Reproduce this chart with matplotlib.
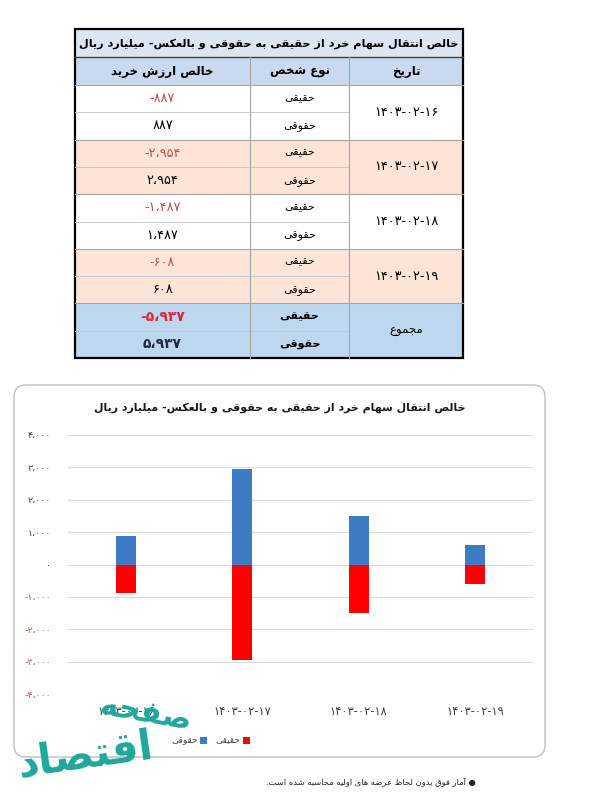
import matplotlib
matplotlib.use('Agg')
import matplotlib.pyplot as plt
from matplotlib.patches import Rectangle, FancyBboxPatch
import numpy as np

plt.rcParams['font.family'] = ['DejaVu Sans']

# data
dates = ['۱۴۰۳-۰۲-۱۶', '۱۴۰۳-۰۲-۱۷', '۱۴۰۳-۰۲-۱۸', '۱۴۰۳-۰۲-۱۹']
haghighi = [-887, -2954, -1487, -608]
hoghooghi = [887, 2954, 1487, 608]
total_vals = [-5937, 5937]
yticks = [-4000, -3000, -2000, -1000, 0, 1000, 2000, 3000, 4000]

title = 'خالص انتقال سهام خرد از حقیقی به حقوقی و بالعکس- میلیارد ریال'
headers = ['خالص ارزش خرید', 'نوع شخص', 'تاریخ']
kinds = ['حقیقی', 'حقوقی']
total_label = 'مجموع'
note = '● آمار فوق بدون لحاظ عرضه های اولیه محاسبه شده است.'

# simple arabic/persian shaping (matplotlib has no bidi)
FORMS = {
    'ا': (0xFE8D, 0xFE8E, None, None), 'آ': (0xFE81, 0xFE82, None, None),
    'ب': (0xFE8F, 0xFE90, 0xFE91, 0xFE92), 'پ': (0xFB56, 0xFB57, 0xFB58, 0xFB59),
    'ت': (0xFE95, 0xFE96, 0xFE97, 0xFE98), 'ج': (0xFE9D, 0xFE9E, 0xFE9F, 0xFEA0),
    'ح': (0xFEA1, 0xFEA2, 0xFEA3, 0xFEA4), 'خ': (0xFEA5, 0xFEA6, 0xFEA7, 0xFEA8),
    'د': (0xFEA9, 0xFEAA, None, None), 'ر': (0xFEAD, 0xFEAE, None, None),
    'ز': (0xFEAF, 0xFEB0, None, None), 'س': (0xFEB1, 0xFEB2, 0xFEB3, 0xFEB4),
    'ش': (0xFEB5, 0xFEB6, 0xFEB7, 0xFEB8), 'ص': (0xFEB9, 0xFEBA, 0xFEBB, 0xFEBC),
    'ض': (0xFEBD, 0xFEBE, 0xFEBF, 0xFEC0), 'ظ': (0xFEC5, 0xFEC6, 0xFEC7, 0xFEC8),
    'ع': (0xFEC9, 0xFECA, 0xFECB, 0xFECC), 'ف': (0xFED1, 0xFED2, 0xFED3, 0xFED4),
    'ق': (0xFED5, 0xFED6, 0xFED7, 0xFED8), 'ک': (0xFB8E, 0xFB8F, 0xFB90, 0xFB91),
    'ل': (0xFEDD, 0xFEDE, 0xFEDF, 0xFEE0), 'م': (0xFEE1, 0xFEE2, 0xFEE3, 0xFEE4),
    'ن': (0xFEE5, 0xFEE6, 0xFEE7, 0xFEE8), 'و': (0xFEED, 0xFEEE, None, None),
    'ه': (0xFEE9, 0xFEEA, 0xFEEB, 0xFEEC), 'ی': (0xFBFC, 0xFBFD, 0xFBFE, 0xFBFF),
}


def fa(s):
    out = []
    for i, c in enumerate(s):
        if c not in FORMS:
            out.append(c)
            continue
        f = FORMS[c]
        prev = s[i - 1] if i > 0 else ''
        nxt = s[i + 1] if i < len(s) - 1 else ''
        jp = prev in FORMS and FORMS[prev][2] is not None
        jn = f[2] is not None and nxt in FORMS
        if jp and jn:
            g = f[3]
        elif jp:
            g = f[1]
        elif jn:
            g = f[2]
        else:
            g = f[0]
        out.append(chr(g))
    return ''.join(out)[::-1]


def num(v):
    s = f'{v:,}'.replace(',', '،')
    return s.translate(str.maketrans('0123456789', '۰۱۲۳۴۵۶۷۸۹'))


fig = plt.figure(figsize=(5.9, 8), dpi=100)
ov = fig.add_axes([0, 0, 1, 1])
ov.set_xlim(0, 590)
ov.set_ylim(800, 0)
ov.axis('off')

# ---- table ----
x0, x1, x2, x3 = 75, 250, 349, 463
ty0, ty1, ty2 = 29, 57, 85
rh = 27.3
ov.add_patch(Rectangle((x0, ty0), x3 - x0, ty1 - ty0, fc='#dce6f2', ec='none'))
ov.add_patch(Rectangle((x0, ty1), x3 - x0, ty2 - ty1, fc='#c9daf0', ec='none'))
ov.text((x0 + x3) / 2, (ty0 + ty1) / 2 + 1, fa(title), ha='center', va='center',
        fontsize=8.1, fontweight='bold', color='black')
for h, (a, b) in zip(headers, [(x0, x1), (x1, x2), (x2, x3)]):
    ov.text((a + b) / 2, (ty1 + ty2) / 2, fa(h), ha='center', va='center',
            fontsize=8.5, fontweight='bold', color='black')

groups = dates + [total_label]
fills = ['white', '#fce4d6', 'white', '#fce4d6', '#bdd7ee']
for gi, g in enumerate(groups):
    y = ty2 + gi * 2 * rh
    ov.add_patch(Rectangle((x0, y), x3 - x0, 2 * rh, fc=fills[gi], ec='none'))
    if gi < len(dates):
        vals = [haghighi[gi], hoghooghi[gi]]
        label = g
        bold = False
        fs = 9.3
    else:
        vals = total_vals
        label = fa(g)
        bold = True
        fs = 8.5
    ov.text((x2 + x3) / 2, y + rh, label, ha='center', va='center', fontsize=fs,
            color='black')
    for k in range(2):
        yc = y + k * rh + rh / 2
        ov.text((x1 + x2) / 2, yc + (1 if k else -1), fa(kinds[k]), ha='center', va='center',
                fontsize=8, color='black', fontweight='bold' if bold else 'normal')
        v = vals[k]
        ov.text((x0 + x1) / 2, yc, num(v), ha='center', va='center',
                fontsize=10 if bold else 9.3, fontweight='bold' if bold else 'normal',
                color=('#e0283a' if bold else '#c0504d') if v < 0 else ('#1f2a44' if bold else 'black'))
    # inner line between sub rows
    ov.plot([x0, x2], [y + rh, y + rh], color='#c8c8c8', lw=0.7)
    ov.plot([x0, x3], [y, y], color='#a6a6a6', lw=0.8)

ov.plot([x0, x3], [ty1, ty1], color='#404040', lw=1.0)
ov.plot([x1, x1], [ty1, ty2 + 10 * rh], color='#a6a6a6', lw=0.8)
ov.plot([x2, x2], [ty1, ty2 + 10 * rh], color='#a6a6a6', lw=0.8)
ov.add_patch(Rectangle((x0, ty0), x3 - x0, ty2 + 10 * rh - ty0, fc='none', ec='black', lw=1.6))

# ---- chart box ----
ov.add_patch(FancyBboxPatch((14, 385), 531, 372, boxstyle='round,pad=0,rounding_size=12',
                            fc='white', ec='#bfbfbf', lw=1.0))
ov.text(280, 408, fa(title), ha='center', va='center', fontsize=7.9,
        fontweight='bold', color='#1a1a1a')

ax = fig.add_axes([68 / 590, 106 / 800, 465 / 590, 259 / 800])
ax.set_facecolor('none')
x = np.arange(len(dates))
w = 0.17
ax.bar(x, hoghooghi, w, color='#3d7cc4', zorder=3)
ax.bar(x, haghighi, w, color='#ff0000', zorder=3)
ax.set_xlim(-0.5, 3.5)
ax.set_ylim(-4000, 4000)
ax.set_yticks(yticks)
ax.set_yticklabels([num(v) for v in yticks], fontsize=6.8)
for lab, v in zip(ax.get_yticklabels(), yticks):
    lab.set_color('#c0504d' if v < 0 else '#404040')
ax.set_xticks(x)
ax.set_xticklabels(dates, fontsize=8.3, color='#404040')
ax.tick_params(axis='y', length=0, pad=12)
ax.tick_params(axis='x', length=0, pad=8)
ax.grid(axis='y', color='#d9d9d9', lw=0.8, zorder=0)
for s in ax.spines.values():
    s.set_visible(False)

# legend (rtl order)
ov.text(198, 741, fa(kinds[1]), ha='right', va='center', fontsize=6.5, color='#404040')
ov.add_patch(Rectangle((200, 737), 7, 7, fc='#3d7cc4', ec='none'))
ov.text(240, 741, fa(kinds[0]), ha='right', va='center', fontsize=6.5, color='#404040')
ov.add_patch(Rectangle((243, 737), 7, 7, fc='#ff0000', ec='none'))

ov.text(476, 782, fa(note), ha='right', va='center', fontsize=6, color='#222222')

# watermark
fig.text(15 / 590, 1 - 755 / 800, fa('اقتصاد'), fontsize=30, fontweight='bold',
         color='#1fa79b', ha='left', va='center', rotation=8, zorder=20)
fig.text(98 / 590, 1 - 714 / 800, fa('صفحه'), fontsize=22, fontweight='bold',
         color='#1fa79b', ha='left', va='center', rotation=-10, zorder=20)

fig.savefig('out.png', dpi=100)
